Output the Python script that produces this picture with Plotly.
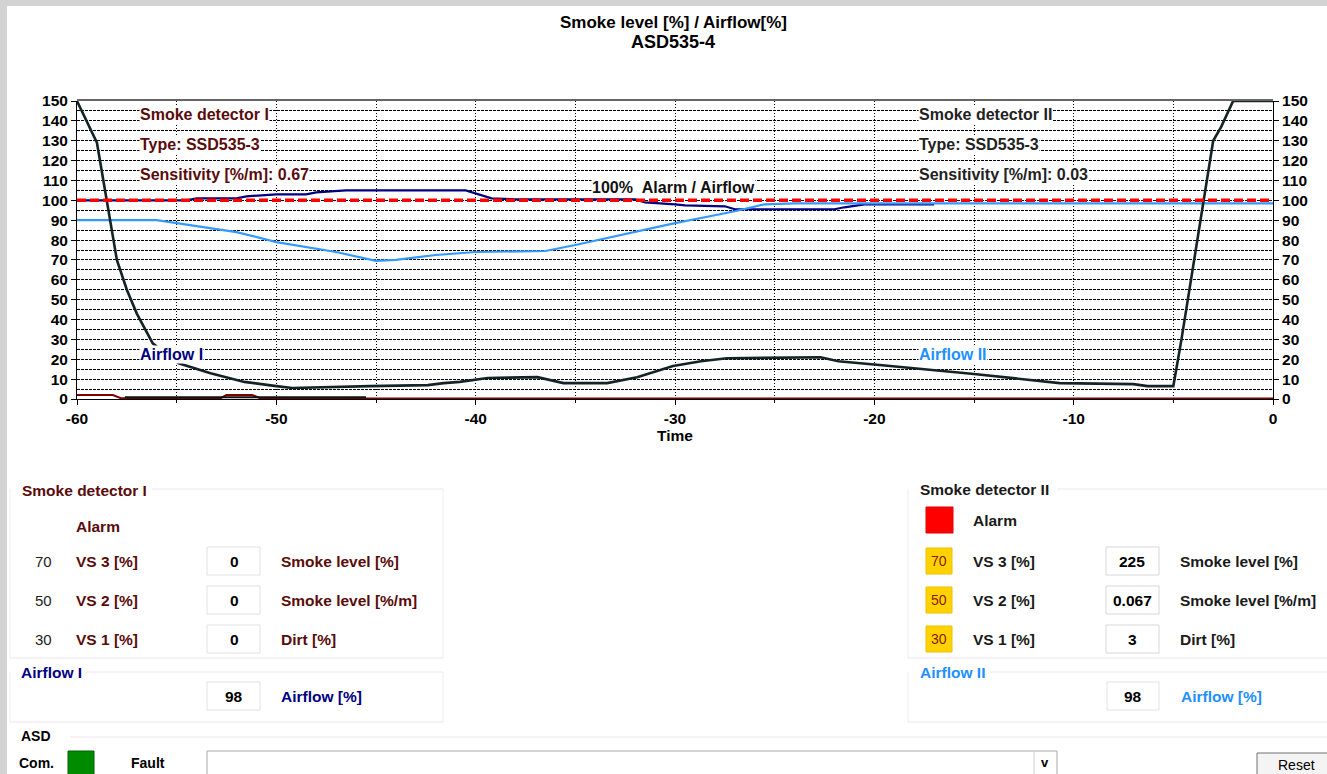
import plotly.graph_objects as go

# ---------------- data ----------------
smoke2_t = [-60, -59, -58, -57.5, -57, -56.2, -55.7, -54.9, -53.3, -51.6, -50, -49.2, -45.3, -42.4, -41.6,
            -40.8, -39.4, -36.9, -35.6, -33.4, -31.9, -30.1, -28.7, -27.4, -22.7, -21.8, -19.6, -15,
            -10.7, -7, -6.3, -5, -4.6, -4.2, -3.5, -3, -2.6, -2, 0]
smoke2_v = [150, 129, 70, 55, 43, 28, 24, 18, 13, 8.6, 6.5, 5.5, 6.5, 7, 8,
            8.6, 10.6, 11, 8, 8, 11, 16.6, 19, 20.5, 21, 19, 17, 12.6,
            8, 7.5, 6.5, 6.5, 29.5, 55, 100, 130, 137, 150, 150]

smoke1_t = [-60, -58.2, -57.8, -52.8, -52.5, -51.2, -50.8, 0]
smoke1_v = [2, 2, 0.4, 0.4, 2, 2, 0.3, 0.3]

dirt1_t = [-57.6, -45.5]
dirt1_v = [0.9, 0.9]

airflow1_t = [-60, -54.5, -54, -52, -51.5, -50, -48.5, -48, -46.5, -44, -40.5, -39.2, -38, -32, -31.5,
              -30, -29.5, -27.5, -27, -22, -21.5, -20.5, -17]
airflow1_v = [100, 100, 101, 101, 102, 103, 103, 104, 105, 105, 105, 101, 100.5, 100.5, 99,
              98, 97.5, 97, 95.5, 95.5, 96.5, 98, 98]

airflow2_t = [-60, -56, -52, -50, -47, -45, -44, -42, -40, -36.5, -35, -33, -30, -28, -27, -25.5, -24, 0]
airflow2_v = [90, 90, 84, 79, 74, 69.5, 70, 72.5, 74, 74.5, 77.5, 82, 88.5, 92.5, 94.5, 98, 98.5, 98.5]

alarm_t = [-60, 0]
alarm_v = [100, 100]

x_ticks = [-60, -50, -40, -30, -20, -10, 0]
y_ticks = list(range(0, 151, 10))

# panel values
vs_levels = ["70", "50", "30"]
vs_names = ["VS 3 [%]", "VS 2 [%]", "VS 1 [%]"]
value_names = ["Smoke level [%]", "Smoke level [%/m]", "Dirt [%]"]
det1_values = ["0", "0", "0"]
det2_values = ["225", "0.067", "3"]
airflow1_value = "98"
airflow2_value = "98"

# ---------------- styling helpers ----------------
W, H = 1327, 774
L, R, T, B = 77, 1273, 101, 399
FONT = "Liberation Sans"
MAROON = "#5a0b0b"
NAVY = "#000080"
LBLUE = "#1e90ff"


def PX(x):
    return (x - L) / (R - L)


def PY(y):
    return (B - y) / (B - T)


fig = go.Figure()

fig.add_trace(go.Scatter(x=smoke1_t, y=smoke1_v, mode="lines", line=dict(color="#7a0000", width=2),
                         name="Smoke I", showlegend=False))
fig.add_trace(go.Scatter(x=dirt1_t, y=dirt1_v, mode="lines", line=dict(color="#111111", width=2),
                         name="Dirt I", showlegend=False))
fig.add_trace(go.Scatter(x=airflow1_t, y=airflow1_v, mode="lines", line=dict(color=NAVY, width=2.2),
                         name="Airflow I", showlegend=False))
fig.add_trace(go.Scatter(x=airflow2_t, y=airflow2_v, mode="lines", line=dict(color="#3399ff", width=2.2),
                         name="Airflow II", showlegend=False))
fig.add_trace(go.Scatter(x=smoke2_t, y=smoke2_v, mode="lines", line=dict(color="#142424", width=2.6),
                         name="Smoke II", showlegend=False))
fig.add_trace(go.Scatter(x=alarm_t, y=alarm_v, mode="lines", yaxis="y2",
                         line=dict(color="#ff0000", width=3.5, dash="9px,4px"),
                         name="100% Alarm / Airflow", showlegend=False))

tickfont = dict(family=FONT, size=15.5, color="black", weight="bold")

fig.update_layout(
    width=W, height=H,
    margin=dict(l=L, r=W - R, t=T, b=H - B, pad=0),
    paper_bgcolor="white", plot_bgcolor="white",
    showlegend=False,
    xaxis=dict(range=[-60, 0], tickvals=x_ticks, ticktext=[str(v) for v in x_ticks],
               showgrid=True, gridcolor="black", gridwidth=1, griddash="1px,2px",
               minor=dict(dtick=5, showgrid=True, gridcolor="black", gridwidth=1, griddash="1px,2px",
                          ticks="outside", ticklen=3, tickcolor="black"),
               ticks="outside", ticklen=5, tickcolor="black",
               showline=True, linecolor="black", linewidth=1,
               zeroline=False, tickfont=tickfont,
               title=dict(text="<b>Time</b>", font=dict(family=FONT, size=15.5, color="black"), standoff=4)),
    yaxis=dict(range=[0, 150], tickvals=y_ticks, showgrid=True, gridcolor="black", gridwidth=1,
               griddash="3px,1px",
               minor=dict(dtick=5, showgrid=True, gridcolor="black", gridwidth=1, griddash="3px,1px"),
               ticks="outside", ticklen=5, tickcolor="black",
               showline=True, linecolor="black", linewidth=1, zeroline=False, tickfont=tickfont),
    yaxis2=dict(range=[0, 150], tickvals=y_ticks, overlaying="y", side="right", showgrid=False,
                ticks="outside", ticklen=5, tickcolor="black",
                showline=True, linecolor="black", linewidth=1, zeroline=False, tickfont=tickfont),
)

shapes = []
anns = []


def rect(x0, y0, x1, y1, fill="white", line="#c8c8c8", lw=1, layer="above"):
    shapes.append(dict(type="rect", xref="paper", yref="paper", x0=PX(x0), x1=PX(x1), y0=PY(y0), y1=PY(y1),
                       fillcolor=fill, line=dict(color=line, width=lw), layer=layer))


def hline(x0, x1, y, color="#efe4ef", lw=1):
    shapes.append(dict(type="line", xref="paper", yref="paper", x0=PX(x0), x1=PX(x1), y0=PY(y), y1=PY(y),
                       line=dict(color=color, width=lw)))


def vline(x, y0, y1, color="#f3eaf3", lw=1):
    shapes.append(dict(type="line", xref="paper", yref="paper", x0=PX(x), x1=PX(x), y0=PY(y0), y1=PY(y1),
                       line=dict(color=color, width=lw)))


def text(x, y, s, color="black", size=15.5, bold=True, anchor="left", bg=None):
    anns.append(dict(xref="paper", yref="paper", x=PX(x), y=PY(y), text=("<b>%s</b>" % s) if bold else s,
                     showarrow=False, xanchor=anchor, yanchor="middle",
                     font=dict(family=FONT, size=size, color=color),
                     bgcolor=bg, borderpad=0))


def dtext(x, y, s, color, size=16):
    anns.append(dict(xref="x", yref="y", x=x, y=y, text="<b>%s</b>" % s, showarrow=False,
                     xanchor="left", yanchor="middle", font=dict(family=FONT, size=size, color=color),
                     bgcolor="white", borderpad=0))


# window frame (gray)
rect(0, 0, 7, H, fill="#d3d3d3", line="#d3d3d3", lw=0, layer="below")
rect(0, 0, W, 6, fill="#d3d3d3", line="#d3d3d3", lw=0, layer="below")
# top border of plot
hline(L, R, 100, color="#666666", lw=2)

# titles
text(673, 22, "Smoke level [%] / Airflow[%]", size=17, anchor="center")
text(673, 42, "ASD535-4", size=18, anchor="center")

# in-plot annotations
dtext(-56.9, 143, "Smoke detector I", MAROON)
dtext(-56.9, 128, "Type: SSD535-3", MAROON)
dtext(-56.9, 113, "Sensitivity [%/m]: 0.67", MAROON)
dtext(-17.8, 143, "Smoke detector II", "#222222")
dtext(-17.8, 128, "Type: SSD535-3", "#222222")
dtext(-17.8, 113, "Sensitivity [%/m]: 0.03", "#222222")
dtext(-34.2, 106.5, "100%&nbsp;&nbsp;Alarm / Airflow", "#111111")
dtext(-56.9, 22.5, "Airflow I", NAVY)
dtext(-17.8, 22.5, "Airflow II", LBLUE)

# ---------------- lower panels ----------------
rows_y = [561, 600, 639]
# left group box
hline(152, 443, 489)
hline(10, 443, 658)
vline(10, 489, 658)
vline(443, 489, 658)
text(21, 490, "Smoke detector I", MAROON)
text(75, 526, "Alarm", MAROON)
for i, yy in enumerate(rows_y):
    text(34, yy, vs_levels[i], "#222222", size=15, bold=False)
    text(75, yy, vs_names[i], MAROON)
    rect(207, yy - 14, 260, yy + 14, fill="white", line="#e2e2e2")
    text(234, yy, det1_values[i], "black", anchor="center")
    text(280, yy, value_names[i], MAROON)
hline(85, 443, 672)
hline(10, 443, 722)
vline(10, 672, 722)
vline(443, 672, 722)
text(20, 672, "Airflow I", NAVY)
rect(207, 682, 260, 710, fill="white", line="#e2e2e2")
text(234, 696, airflow1_value, "black", anchor="center")
text(280, 696, "Airflow [%]", NAVY)

# right group box
hline(1058, W, 489)
hline(908, W, 658)
vline(908, 489, 658)
text(919, 489, "Smoke detector II", "#1a1a1a")
rect(926, 507, 953, 533, fill="#ff0000", line="#e00000")
text(972, 520, "Alarm", "#1a1a1a")
for i, yy in enumerate(rows_y):
    rect(926, yy - 13, 952, yy + 13, fill="#ffd200", line="#f0c000")
    text(939, yy, vs_levels[i], "#8b1a00", size=14, bold=False, anchor="center")
    text(972, yy, vs_names[i], "#1a1a1a")
    rect(1106, yy - 14, 1159, yy + 14, fill="white", line="#d8d8d8")
    text(1132, yy, det2_values[i], "black", anchor="center")
    text(1179, yy, value_names[i], "#1a1a1a")
hline(990, W, 672)
hline(908, W, 722)
vline(908, 672, 722)
text(919, 672, "Airflow II", LBLUE)
rect(1107, 682, 1159, 710, fill="white", line="#e2e2e2")
text(1133, 696, airflow2_value, "black", anchor="center")
text(1180, 696, "Airflow [%]", LBLUE)

# ASD bar
hline(70, W, 737)
text(20, 736, "ASD", "black", size=14)
text(18, 763, "Com.", "black", size=14)
rect(68, 751, 94, 776, fill="#008a00", line="#006000")
text(130, 763, "Fault", "black", size=14)
rect(207, 751, 1057, 776, fill="white", line="#a8a8a8")
vline(1034, 752, 775, color="#d0d0d0")
text(1045, 763, "v", "black", size=13, anchor="center")
rect(1257, 753, 1330, 778, fill="#f4f4f4", line="#707070")
text(1296, 765, "Reset", "black", size=14, bold=False, anchor="center")

fig.update_layout(shapes=shapes, annotations=anns)

fig.write_html("out.html", config={"displayModeBar": False},
               post_script="document.body.style.margin='0';document.body.style.overflow='hidden';")
